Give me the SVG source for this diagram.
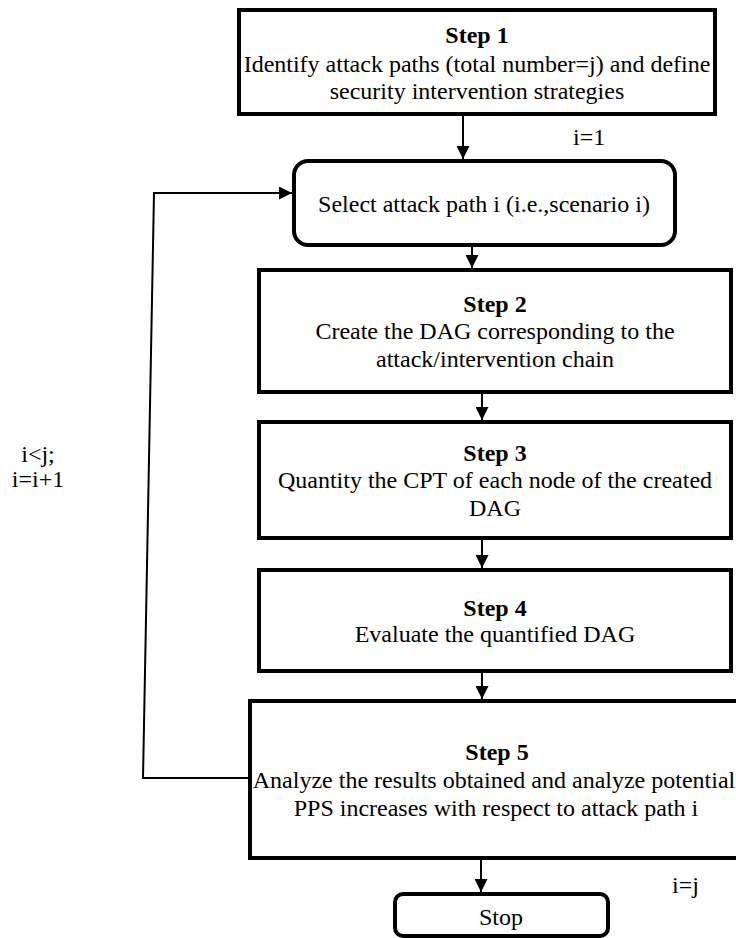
<svg xmlns="http://www.w3.org/2000/svg" width="736" height="938" viewBox="0 0 736 938">
<style>
.box{fill:#fff;stroke:#000;stroke-width:4}
.conn{fill:none;stroke:#000;stroke-width:2}
text{font-family:'Liberation Serif','Times New Roman','DejaVu Serif',serif;font-size:24px;fill:#000}
.c{text-anchor:middle}
.b{font-weight:bold}
</style>
<defs>
<marker id="arr" markerUnits="userSpaceOnUse" markerWidth="14" markerHeight="13" refX="13" refY="6.5" orient="auto">
<path d="M0,0 L13,6.5 L0,13 z" fill="#000"/>
</marker>
</defs>
<rect width="736" height="938" fill="#fff"/>
<g id="connectors">
<line class="conn" x1="463" y1="116" x2="463" y2="159" marker-end="url(#arr)"/>
<line class="conn" x1="472" y1="247" x2="472" y2="268" marker-end="url(#arr)"/>
<line class="conn" x1="482" y1="394" x2="482" y2="420" marker-end="url(#arr)"/>
<line class="conn" x1="482" y1="540" x2="482" y2="568" marker-end="url(#arr)"/>
<line class="conn" x1="482" y1="673" x2="482" y2="699" marker-end="url(#arr)"/>
<line class="conn" x1="481" y1="860" x2="481" y2="892" marker-end="url(#arr)"/>
<polyline class="conn" points="248,778 143,778 154,193 292,193" marker-end="url(#arr)"/>
</g>
<g font-family="Liberation Serif, Times New Roman, DejaVu Serif, serif" font-size="24">
<g id="step1">
<rect class="box" x="239" y="10" width="476" height="104"/>
<text class="c b" x="477" y="43">Step 1</text>
<text class="c" x="477" y="72">Identify attack paths (total number=j) and define</text>
<text class="c" x="477" y="99">security intervention strategies</text>
</g>
<g id="select">
<rect class="box" x="294" y="161" width="381" height="84" rx="14" ry="14"/>
<text class="c" x="484" y="212">Select attack path i (i.e.,scenario i)</text>
</g>
<g id="step2">
<rect class="box" x="259" y="270" width="472" height="122"/>
<text class="c b" x="495" y="312">Step 2</text>
<text class="c" x="495" y="339">Create the DAG corresponding to the</text>
<text class="c" x="495" y="367">attack/intervention chain</text>
</g>
<g id="step3">
<rect class="box" x="259" y="422" width="472" height="116"/>
<text class="c b" x="495" y="461">Step 3</text>
<text class="c" x="495" y="488">Quantity the CPT of each node of the created</text>
<text class="c" x="495" y="516">DAG</text>
</g>
<g id="step4">
<rect class="box" x="259" y="570" width="472" height="101"/>
<text class="c b" x="495" y="616">Step 4</text>
<text class="c" x="495" y="642">Evaluate the quantified DAG</text>
</g>
<g id="step5">
<rect class="box" x="250" y="701" width="500" height="157"/>
<text class="c b" x="497" y="760">Step 5</text>
<text class="c" x="494" y="788">Analyze the results obtained and analyze potential</text>
<text class="c" x="496" y="816">PPS increases with respect to attack path i</text>
</g>
<g id="stop">
<rect class="box" x="395" y="894" width="213" height="42" rx="8" ry="8"/>
<text class="c" x="501" y="925">Stop</text>
</g>
<g id="labels">
<text x="573" y="145">i=1</text>
<text x="672" y="893">i=j</text>
<text class="c" x="38" y="462">i&lt;j;</text>
<text class="c" x="38" y="487">i=i+1</text>
</g>
</g>
</svg>
